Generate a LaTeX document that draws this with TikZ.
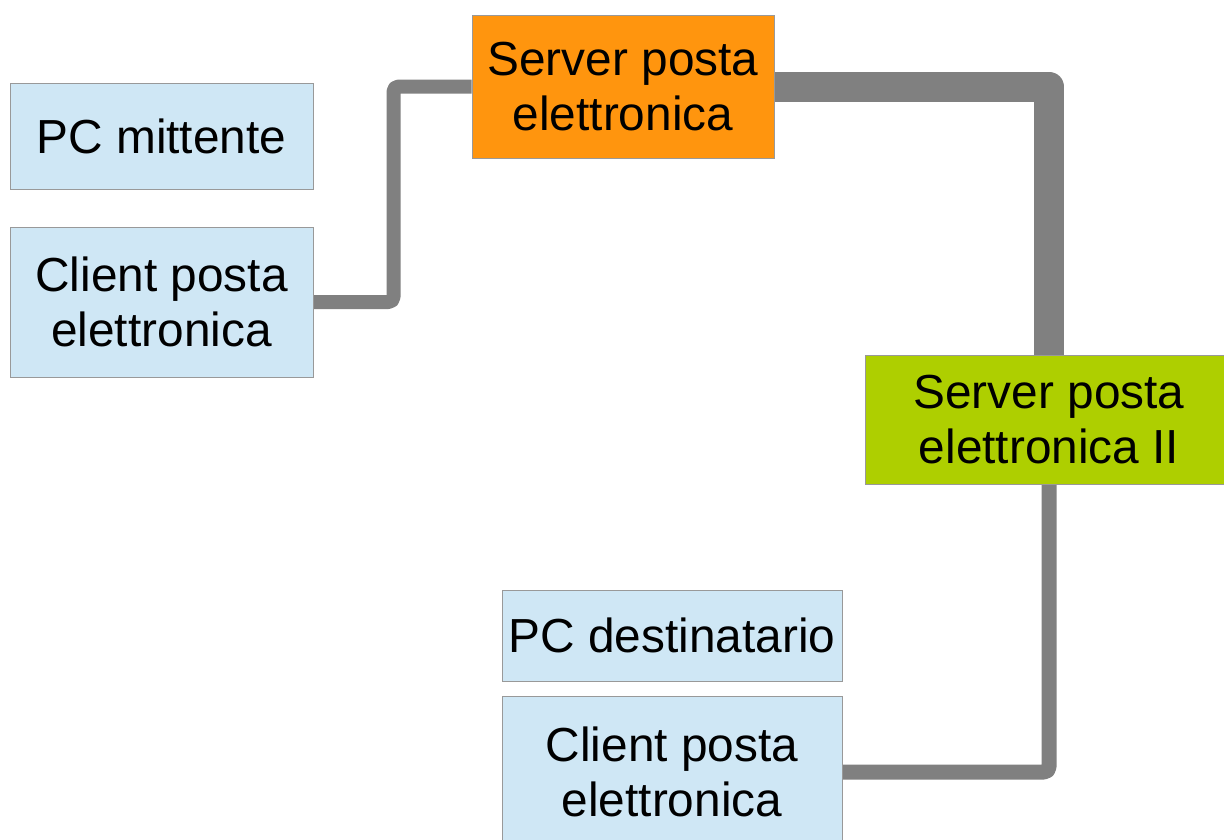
\documentclass[tikz,border=0pt]{standalone}
\usepackage{fontspec}
\setmainfont{Liberation Sans}
\usetikzlibrary{backgrounds}

\definecolor{boxblue}{HTML}{CFE7F5}
\definecolor{boxorange}{HTML}{FF950E}
\definecolor{boxgreen}{HTML}{AECF00}
\definecolor{linkgray}{HTML}{808080}
\definecolor{edgegray}{HTML}{999999}

\tikzset{
  box/.style={draw=edgegray, line width=1pt, inner sep=0pt, align=center,
    font=\fontsize{47.8}{55}\selectfont},
  twoline/.style={text depth=0pt},
  pcbox/.style={box, fill=boxblue},
  link/.style={draw=linkgray, line width=14pt, line join=round, rounded corners=5pt},
  trunk/.style={draw=linkgray, line width=30pt, line join=round},
}

\begin{document}
\begin{tikzpicture}[x=1pt, y=-1pt]
\useasboundingbox (0,0) rectangle (1224,839);
\clip (0,0) rectangle (1224,839);

% sending side
\node[pcbox, minimum width=303pt, minimum height=106pt] (pcA) at (161.5,136) {PC mittente};
\node[pcbox, minimum width=303pt, minimum height=150pt] (clA) at (161.5,302) {Client posta\\elettronica};

% mail servers
\node[box, fill=boxorange, minimum width=302pt, minimum height=143pt] (srvA) at (623,86.5) {Server posta\\elettronica};
\node[box, fill=boxgreen, minimum width=368pt, minimum height=129pt] (srvB) at (1049,419.5) {Server posta\\elettronica II};

% receiving side
\node[pcbox, minimum width=340pt, minimum height=91pt] (pcB) at (672,635.5) {PC destinatario};
\node[pcbox, minimum width=340pt, minimum height=152pt] (clB) at (672,772) {Client posta\\elettronica};

% links between client and servers
\begin{pgfonlayer}{background}
  \draw[link] (clA.east) -- ++(80,0) |- (srvA.west);
  \draw[trunk] (srvA.east) -| (srvB.north);
  \draw[link, line width=15pt] (srvB.south) |- (clB.east);
\end{pgfonlayer}
\end{tikzpicture}
\end{document}
